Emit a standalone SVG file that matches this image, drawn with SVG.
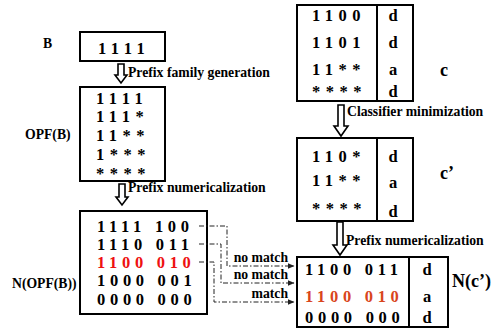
<svg xmlns="http://www.w3.org/2000/svg" width="497" height="329" viewBox="0 0 497 329">
<defs>
<style>
.box{fill:#fff;stroke:#000;stroke-width:2}
.num{font-family:"Liberation Serif","Times New Roman",serif;font-weight:bold;font-size:16.5px;fill:#000}
.n4{letter-spacing:5.5px}
.n7{letter-spacing:4.7px}
.lbl{font-family:"Liberation Serif","Times New Roman",serif;font-weight:bold;font-size:13.7px;fill:#000}
.big{font-family:"Liberation Serif","Times New Roman",serif;font-weight:bold;font-size:18px;fill:#000}
.harrow{fill:#fff;stroke:#000;stroke-width:1.6;stroke-linejoin:miter}
.dd{fill:none;stroke:#222;stroke-width:1;stroke-dasharray:5 2 1.5 2}
</style>
<marker id="ah" markerWidth="7" markerHeight="6" refX="6.5" refY="3" orient="auto" markerUnits="userSpaceOnUse">
<path d="M0,0 L7,3 L0,6 Z" fill="#222"/>
</marker>
</defs>

<g id="nodeB">
<text class="lbl" x="43" y="48">B</text>
<rect class="box" x="80" y="32" width="85" height="29"/>
<text class="num n4" x="98" y="54">1111</text>
</g>

<g id="arrow1">
<polygon class="harrow" points="118,64 124,64 124,75 127,75 121,83 115,75 118,75"/>
<text class="lbl" x="128" y="77">Prefix family generation</text>
</g>

<g id="nodeOPF">
<text class="lbl" x="25" y="139">OPF(B)</text>
<rect class="box" x="80" y="87" width="85" height="94"/>
<text class="num n4" x="96" y="104">1111</text>
<text class="num n4" x="96" y="122">111*</text>
<text class="num n4" x="96" y="141">11**</text>
<text class="num n4" x="96" y="160">1***</text>
<text class="num n4" x="96" y="179">****</text>
</g>

<g id="arrow2">
<polygon class="harrow" points="119,184 125,184 125,197 128,197 122,205 116,197 119,197"/>
<text class="lbl" x="128" y="192">Prefix numericalization</text>
</g>

<g id="nodeNOPF">
<text class="lbl" x="12" y="288">N(OPF(B))</text>
<rect class="box" x="80" y="211" width="127" height="103"/>
<text class="num n7" x="97" y="232">1111 100</text>
<text class="num n7" x="97" y="250">1110 011</text>
<text class="num n7" x="97" y="268" style="fill:#ee1111">1100 010</text>
<text class="num n7" x="97" y="286">1000 001</text>
<text class="num n7" x="97" y="305">0000 000</text>
</g>

<g id="nodeC">
<rect class="box" x="297" y="5" width="116" height="96"/>
<line x1="377" y1="5" x2="377" y2="101" stroke="#000" stroke-width="2"/>
<text class="num n4" x="312" y="21">1100</text>
<text class="num n4" x="312" y="48">1101</text>
<text class="num n4" x="312" y="75">11**</text>
<text class="num n4" x="312" y="97">****</text>
<text class="num" x="393" y="21" text-anchor="middle">d</text>
<text class="num" x="393" y="48" text-anchor="middle">d</text>
<text class="num" x="393" y="75" text-anchor="middle">a</text>
<text class="num" x="393" y="97" text-anchor="middle">d</text>
<text class="big" x="440" y="76">c</text>
</g>

<g id="arrow3">
<polygon class="harrow" points="338,105 344,105 344,126 348,126 341,136 334,126 338,126"/>
<text class="lbl" x="347" y="116">Classifier minimization</text>
</g>

<g id="nodeC2">
<rect class="box" x="297" y="138" width="116" height="83"/>
<line x1="377" y1="138" x2="377" y2="221" stroke="#000" stroke-width="2"/>
<text class="num n4" x="312" y="162">110*</text>
<text class="num n4" x="312" y="186">11**</text>
<text class="num n4" x="312" y="214">****</text>
<text class="num" x="393" y="162" text-anchor="middle">d</text>
<text class="num" x="393" y="188" text-anchor="middle">a</text>
<text class="num" x="393" y="217" text-anchor="middle">d</text>
<text class="big" x="440" y="179">c’</text>
</g>

<g id="arrow4">
<polygon class="harrow" points="337,222 343,222 343,245 347,245 340,255 333,245 337,245"/>
<text class="lbl" x="346" y="245">Prefix numericalization</text>
</g>

<g id="nodeNC">
<rect class="box" x="297" y="257" width="151" height="70"/>
<line x1="409" y1="257" x2="409" y2="327" stroke="#000" stroke-width="2"/>
<text class="num n7" x="305" y="275">1100 011</text>
<text class="num n7" x="305" y="302" style="fill:#d9451c">1100 010</text>
<text class="num n7" x="305" y="323">0000 000</text>
<text class="num" x="427" y="275" text-anchor="middle">d</text>
<text class="num" x="427" y="302" text-anchor="middle">a</text>
<text class="num" x="427" y="323" text-anchor="middle">d</text>
<text class="big" x="452" y="287">N(c’)</text>
</g>

<g id="connectors">
<polyline class="dd" points="199,226 227,226 227,266 294,266" marker-end="url(#ah)"/>
<polyline class="dd" points="199,244 221,244 221,283 294,283" marker-end="url(#ah)"/>
<polyline class="dd" points="199,262 214,262 214,302 294,302" marker-end="url(#ah)"/>
<text class="lbl" x="288" y="262" text-anchor="end">no match</text>
<text class="lbl" x="288" y="279" text-anchor="end">no match</text>
<text class="lbl" x="288" y="298" text-anchor="end">match</text>
</g>
</svg>
